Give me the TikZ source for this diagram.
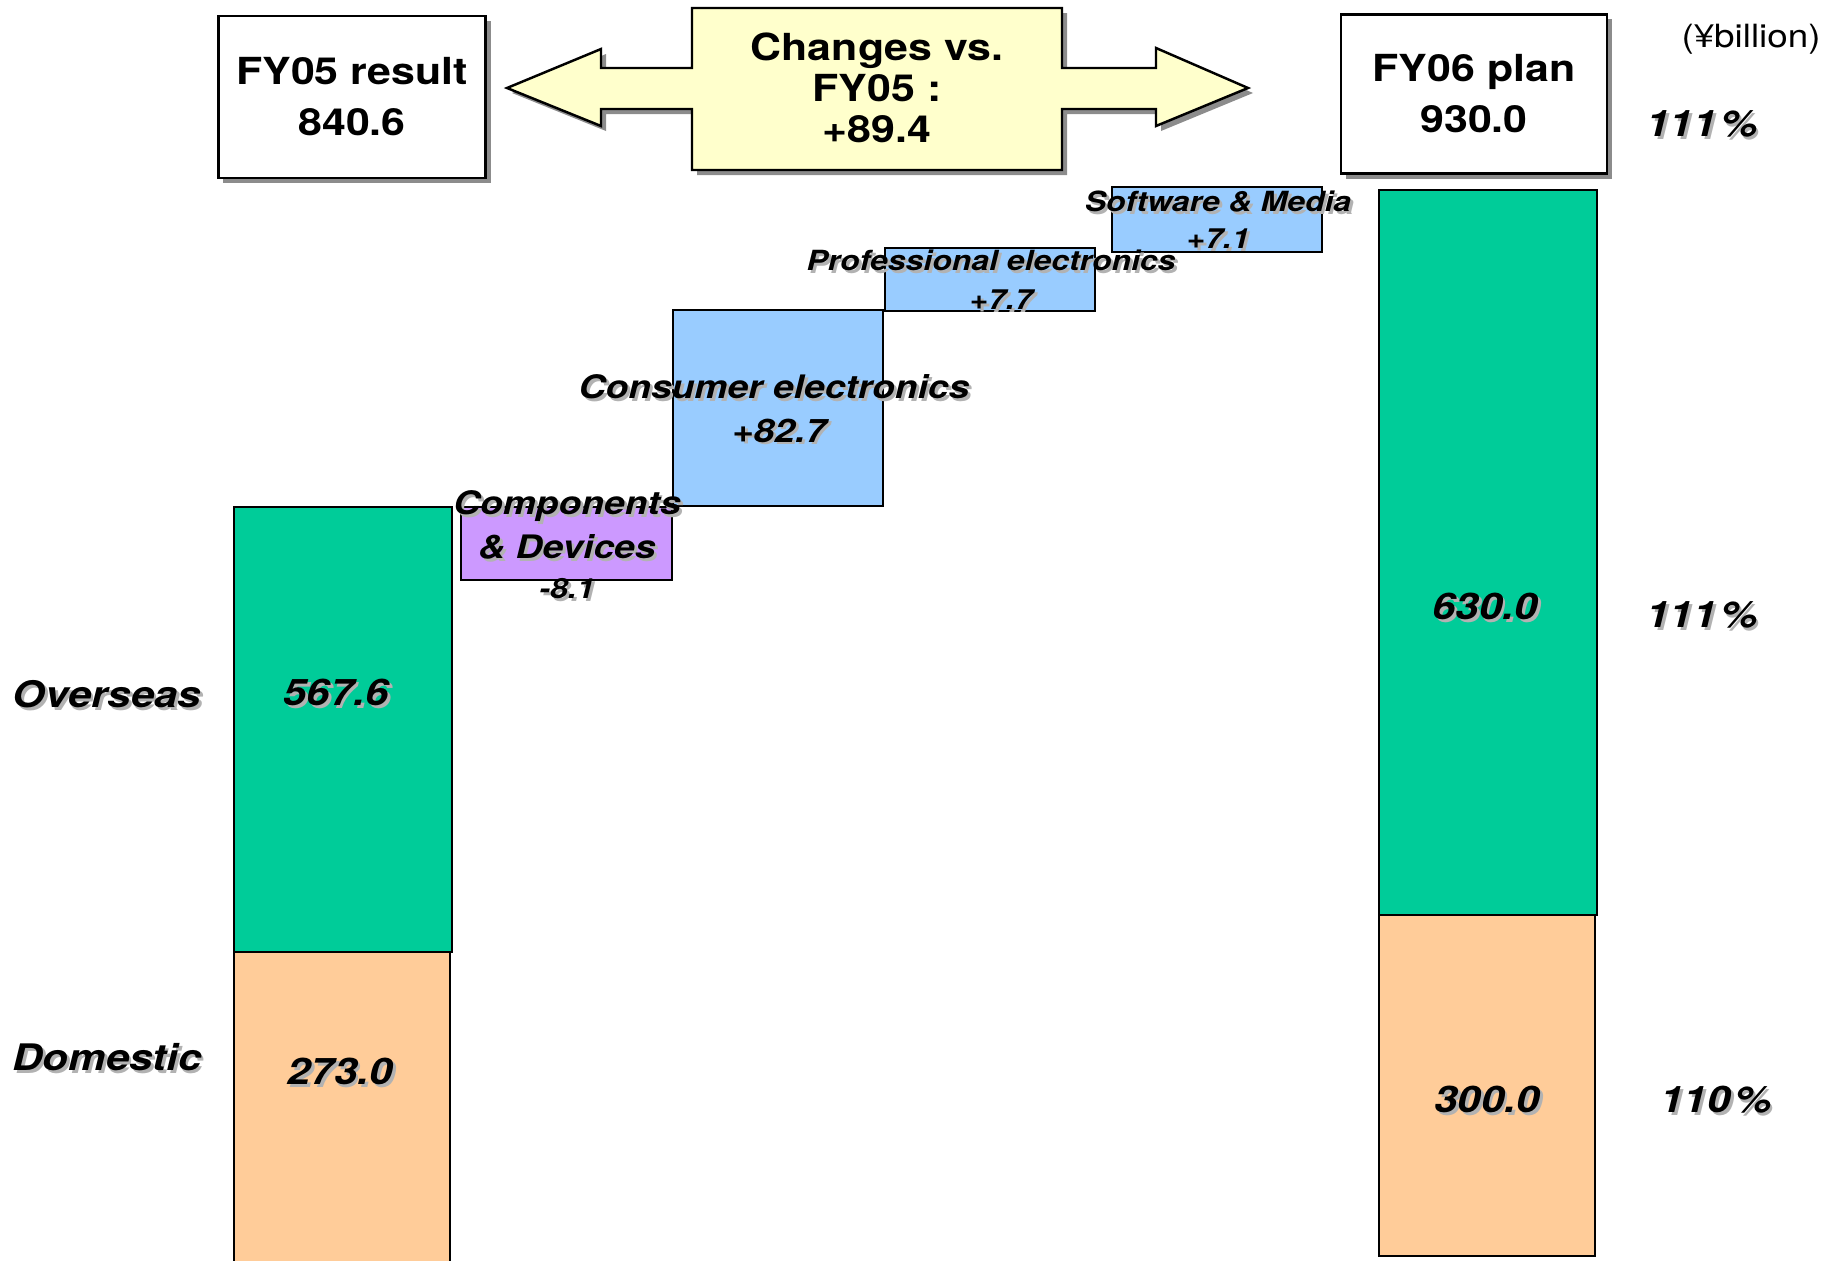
\documentclass[tikz,border=0pt]{standalone}
\usepackage{fontspec}
\setmainfont{TeX Gyre Heros}[FakeStretch=1.15]
\usetikzlibrary{fit,shadows}

\definecolor{ovsgreen}{RGB}{0,204,153}
\definecolor{dompeach}{RGB}{255,204,153}
\definecolor{segblue}{RGB}{153,204,255}
\definecolor{segpurple}{RGB}{204,153,255}
\definecolor{chgyellow}{RGB}{255,255,204}

% text with a light grey shadow
\newcommand{\shd}[1]{\leavevmode\rlap{\kern0.8pt\raisebox{-0.8pt}{\color{black!30}#1}}#1}

\tikzset{
  bar/.style={draw, line width=0.6pt, inner sep=0pt},
  boxshadow/.style={drop shadow={shadow xshift=0.05cm, shadow yshift=-0.05cm, fill=black!45, opacity=1}},
  headbox/.style={draw, fill=white, line width=0.7pt, boxshadow, align=center},
  big/.style={font=\fontsize{10.6}{14.5}\selectfont\bfseries},
  bigit/.style={font=\fontsize{10.4}{12}\selectfont\bfseries\itshape},
  midit/.style={font=\fontsize{9.2}{12.5}\selectfont\bfseries\itshape, align=center},
  smallit/.style={font=\fontsize{7.9}{10}\selectfont\bfseries\itshape},
}

\begin{document}
\begin{tikzpicture}[x=0.01cm, y=-0.01cm]
  \path[use as bounding box] (0,0) rectangle (1836,1260);

  % headline boxes
  \node[headbox, big, minimum width=2.67cm, minimum height=1.62cm] (fy05) at (352,97) {FY05 result\\840.6};
  \node[headbox, big, minimum width=2.66cm, minimum height=1.59cm] (fy06) at (1474,94) {FY06 plan\\930.0};
  \draw[fill=chgyellow, line width=0.7pt, boxshadow]
    (507,88) -- (601,49) -- (601,68) -- (692,68) -- (692,8) -- (1062,8) -- (1062,68)
    -- (1156,68) -- (1156,48) -- (1248,88) -- (1156,126) -- (1156,109) -- (1062,109)
    -- (1062,170) -- (692,170) -- (692,109) -- (601,109) -- (601,126) -- cycle;
  \node[font=\fontsize{10.6}{11.7}\selectfont\bfseries, align=center] (chg) at (877,88) {Changes vs.\\FY05 :\\+89.4};
  \node[font=\fontsize{9.1}{11}\selectfont] (unit) at (1751,39) {(¥billion)};

  % bars
  \node[bar, fill=ovsgreen, fit={(234,507) (452,952)}] (ovs05) {};
  \node[bar, fill=dompeach, fit={(234,952) (450,1264)}] (dom05) {};
  \node[bar, fill=ovsgreen, fit={(1379,190) (1597,915)}] (ovs06) {};
  \node[bar, fill=dompeach, fit={(1379,915) (1595,1256)}] (dom06) {};

  % steps
  \node[bar, fill=segpurple, fit={(461,507) (672,580)}] (cd) {};
  \node[bar, fill=segblue, fit={(673,310) (883,506)}] (ce) {};
  \node[bar, fill=segblue, fit={(885,248) (1095,311)}] (pe) {};
  \node[bar, fill=segblue, fit={(1112,187) (1322,252)}] (sm) {};

  \node[midit] (cdname) at (567,526) {\shd{Components}\\\shd{\& Devices}};
  \node[smallit] (cdval) at (567,590) {\shd{-8.1}};
  \node[midit] (cename) at (774,388) {\shd{Consumer electronics}};
  \node[midit] (ceval) at (779,432) {\shd{+82.7}};
  \node[smallit] (pename) at (991,262) {\shd{Professional electronics}};
  \node[smallit] (peval) at (1001,301) {\shd{+7.7}};
  \node[smallit] (smname) at (1218,203) {\shd{Software \& Media}};
  \node[smallit] (smval) at (1218,240) {\shd{+7.1}};

  % values and ratios
  \node[bigit] (ovslbl) at (107,696) {\shd{Overseas}};
  \node[bigit] (domlbl) at (107,1059) {\shd{Domestic}};
  \node[bigit] (ovs05val) at (336,694) {\shd{567.6}};
  \node[bigit] (dom05val) at (340,1073) {\shd{273.0}};
  \node[bigit] (ovs06val) at (1485,608) {\shd{630.0}};
  \node[bigit] (dom06val) at (1487,1101) {\shd{300.0}};
  \node[bigit] (totpct) at (1702,125) {\shd{111\kern1pt\%}};
  \node[bigit] (ovspct) at (1702,616) {\shd{111\kern1pt\%}};
  \node[bigit] (dompct) at (1716,1101) {\shd{110\kern1pt\%}};
\end{tikzpicture}
\end{document}
